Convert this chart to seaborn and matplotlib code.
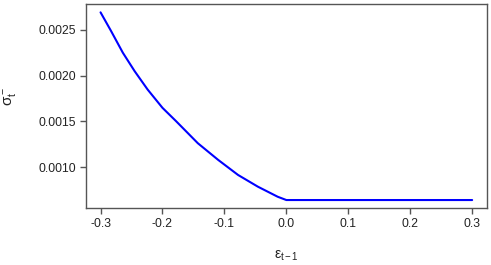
import matplotlib
matplotlib.use("Agg")
import matplotlib.pyplot as plt
import seaborn as sns
import pandas as pd

# news impact curve
eps = [-0.300, -0.283, -0.264, -0.245, -0.224, -0.200, -0.178, -0.143,
       -0.110, -0.078, -0.046, -0.014, 0.0, 0.3]
sigma = [0.002692, 0.002488, 0.002251, 0.002050, 0.001849, 0.001649, 0.001503,
         0.001263, 0.001080, 0.000916, 0.000788, 0.000678, 0.000642, 0.000642]

x_ticks = [-0.3, -0.2, -0.1, 0.0, 0.1, 0.2, 0.3]
y_ticks = [0.0010, 0.0015, 0.0020, 0.0025]

df = pd.DataFrame({"eps": eps, "sigma": sigma})

sns.set_style("ticks")
plt.rcParams['font.family'] = ['Liberation Sans', 'DejaVu Sans']
plt.rcParams['mathtext.fontset'] = 'custom'
plt.rcParams['mathtext.rm'] = 'Liberation Sans'
plt.rcParams['mathtext.it'] = 'Liberation Sans'

frame = '#555555'
txt = '#222222'

fig = plt.figure(figsize=(4.91, 2.65), dpi=100)
ax = fig.add_axes([0.1745, 0.2151, 0.8174, 0.7687])

sns.lineplot(data=df, x="eps", y="sigma", color='#0000ff', linewidth=1.5, ax=ax)

ax.set_xlim(-0.324, 0.324)
ax.set_ylim(0.000555, 0.00278)
ax.set_xticks(x_ticks)
ax.set_xticklabels([f"{v:.1f}" for v in x_ticks])
ax.set_yticks(y_ticks)
ax.set_yticklabels([f"{v:.4f}" for v in y_ticks])

for s in ax.spines.values():
    s.set_visible(True)
    s.set_color(frame)
    s.set_linewidth(1.0)
ax.tick_params(axis='both', length=4, width=1.0, color=frame,
               labelsize=8.7, labelcolor=txt, pad=3)

ax.set_xlabel(r'$ε_{t-1}$', fontsize=10, color=txt)
ax.set_ylabel(r'$σ_t^-$', fontsize=11, color=txt)
ax.xaxis.set_label_coords(0.5, -0.2)
ax.yaxis.set_label_coords(-0.165, 0.55)

fig.savefig("out.png", dpi=100)
